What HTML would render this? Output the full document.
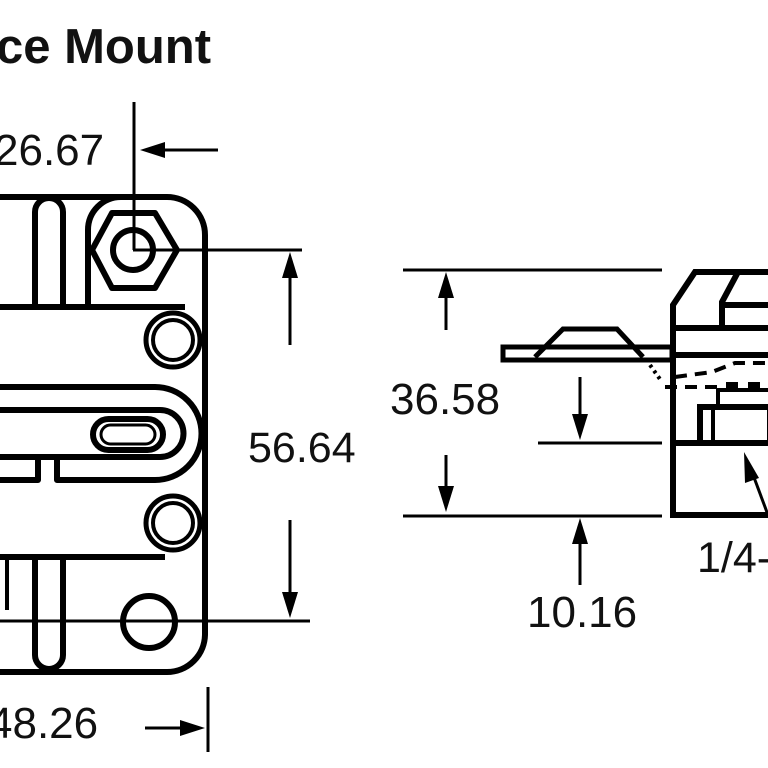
<!DOCTYPE html>
<html><head><meta charset="utf-8"><style>
html,body{margin:0;padding:0;background:#fff;}
svg{display:block;}
text{font-family:"Liberation Sans",sans-serif;fill:#111;}
</style></head><body>
<svg width="768" height="768" viewBox="0 0 768 768" xmlns="http://www.w3.org/2000/svg">
<text x="-4" y="63" font-size="49" font-weight="bold">ce Mount</text>
<text x="-6" y="165" font-size="44">26.67</text>
<text x="-12" y="738" font-size="44">48.26</text>
<text x="248" y="462" font-size="43">56.64</text>
<text x="390" y="414" font-size="44">36.58</text>
<text x="527" y="627" font-size="44">10.16</text>
<text x="697" y="572" font-size="43">1/4-</text>

<g fill="none" stroke="#000" stroke-width="6" stroke-linejoin="round">
<path d="M0 197 H167 A38 38 0 0 1 205 235 V634 A38 38 0 0 1 167 672 H0"/>
<path d="M35 307 V212 A14 14 0 0 1 63 212 V307"/>
<path d="M88 307 V230 A33 33 0 0 1 121 197"/>
<path d="M0 307 H185"/>
<polygon points="92,250 112,213 155,213 177,250 155,288 112,288"/>
<circle cx="133" cy="250" r="20"/>
<circle cx="173" cy="340" r="27" stroke-width="5"/>
<circle cx="173" cy="340" r="20" stroke-width="4"/>
<circle cx="173" cy="523" r="27" stroke-width="5"/>
<circle cx="173" cy="523" r="20" stroke-width="4"/>
<path d="M0 387 H155 A46 46 0 0 1 155 480 H57 V457"/>
<path d="M0 480 H38 V457"/>
<path d="M0 410 H160 A23 23 0 0 1 160 457 H0"/>
<rect x="93" y="419" width="70" height="31" rx="15.5"/>
<rect x="101" y="425" width="54" height="19" rx="9.5" stroke-width="3"/>
<path d="M0 557 H165"/>
<path d="M35 557 V655 A14 14 0 0 0 63 655 V557"/>
<path d="M7 560 V610" stroke-width="4"/>
<circle cx="149" cy="622" r="26"/>
</g>

<g stroke="#000" stroke-width="3" fill="none">
<path d="M134 102 V250"/>
<path d="M150 150 H218"/>
<path d="M133 250 H302"/>
<path d="M0 621 H310"/>
<path d="M290 265 V345"/>
<path d="M290 520 V605"/>
<path d="M208 687 V752"/>
<path d="M145 728 H192"/>
<path d="M403 270 H662"/>
<path d="M538 443 H662"/>
<path d="M403 516 H662"/>
<path d="M446 287 V330"/>
<path d="M446 455 V497"/>
<path d="M580 377 V425"/>
<path d="M580 535 V585"/>
<path d="M768 515 L752 472"/>
</g>
<g fill="#000">
<polygon points="140,150 165,142 165,158"/>
<polygon points="290,252 282,278 298,278"/>
<polygon points="290,618 282,592 298,592"/>
<polygon points="205,728 180,720 180,736"/>
<polygon points="446,272 438,298 454,298"/>
<polygon points="446,512 438,486 454,486"/>
<polygon points="580,440 572,414 588,414"/>
<polygon points="580,518 572,544 588,544"/>
<polygon points="744,452 745,483 759,478"/>
</g>

<g fill="none" stroke="#000" stroke-width="6" stroke-linejoin="miter">
<path d="M768 515 H673 V305 L695 272 H768"/>
<path d="M738 272 L722 302 V327"/>
<path d="M722 305 H768"/>
<path d="M673 328 H768"/>
<path d="M673 355 H768"/>
<path d="M673 443 H768"/>
<path d="M503 347 H672 V360 H503 Z" stroke-width="5"/>
<path d="M535 357 L563 329 H617 L643 357" stroke-width="5"/>
<rect x="700" y="407" width="70" height="36"/>
<path d="M713 407 V443" stroke-width="4"/>
<rect x="718" y="390" width="52" height="18" stroke-width="4"/>
</g>
<g fill="#000">
<rect x="726" y="382" width="12" height="8"/>
<rect x="748" y="382" width="12" height="8"/>
</g>
<g stroke="#000" stroke-width="4" fill="none" stroke-dasharray="12 8">
<path d="M675 377 L712 372 L735 363 H768"/>
<path d="M665 387 H720"/>
<path d="M650 365 L662 382" stroke-dasharray="3 4"/>
</g>
</svg>
</body></html>
